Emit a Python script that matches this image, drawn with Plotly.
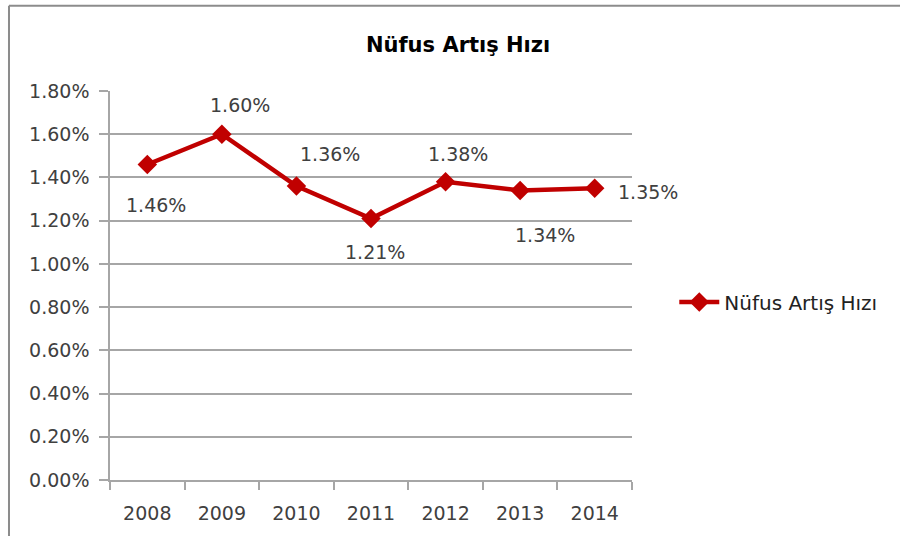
import plotly.graph_objects as go

years = ["2008", "2009", "2010", "2011", "2012", "2013", "2014"]
rates = [0.0146, 0.0160, 0.0136, 0.0121, 0.0138, 0.0134, 0.0135]
label_texts = ["1.46%", "1.60%", "1.36%", "1.21%", "1.38%", "1.34%", "1.35%"]
series_name = "Nüfus Artış Hızı"
title_text = "Nüfus Artış Hızı"
y_ticks = [0.0, 0.002, 0.004, 0.006, 0.008, 0.010, 0.012, 0.014, 0.016, 0.018]

# label offsets in pixels (style/position only)
label_dx = [9, 18, 34, 4, 12, 25, 53]
label_dy = [-41, 29, 32, -33, 28, -45, -4]

FONT = "DejaVu Sans"
RED = "#c00000"
TXT = "#404040"
GRID = "#a6a6a6"

fig = go.Figure()
fig.add_trace(go.Scatter(
    x=years, y=rates, mode="lines+markers", name=series_name,
    line=dict(color=RED, width=4.5),
    marker=dict(symbol="diamond", size=15, color=RED),
    hoverinfo="skip",
))

for i, (y, t, dx, dy) in enumerate(zip(rates, label_texts, label_dx, label_dy)):
    fig.add_annotation(x=i, y=y, xref="x", yref="y", text=t, showarrow=False,
                       xshift=dx, yshift=dy,
                       font=dict(family=FONT, size=19, color=TXT),
                       xanchor="center", yanchor="middle")

fig.add_shape(type="line", xref="paper", yref="paper", x0=-0.1935, x1=1.7,
              y0=1.219, y1=1.219, line=dict(color="#8c8c8c", width=2))
fig.add_shape(type="line", xref="paper", yref="paper", x0=-0.1935, x1=-0.1935,
              y0=1.219, y1=-0.3, line=dict(color="#8c8c8c", width=2))

fig.update_layout(
    width=900, height=536,
    margin=dict(l=110, r=268, t=91, b=56),
    paper_bgcolor="white", plot_bgcolor="white",
    title=dict(text=title_text, x=0.509, xanchor="center", y=0.916, yanchor="middle",
               font=dict(family=FONT, size=21, color="#000000", weight="bold")),
    showlegend=True,
    legend=dict(x=1.081, y=0.4576, xanchor="left", yanchor="middle",
                font=dict(family=FONT, size=20, color="#222222"),
                bgcolor="rgba(0,0,0,0)", itemwidth=40),
    xaxis=dict(type="category", range=[-0.5, 6.5], tickson="boundaries",
               ticks="outside", ticklen=8, tickcolor=GRID, tickwidth=1.5,
               showline=True, linecolor=GRID, linewidth=1.5, showgrid=False,
               tickfont=dict(family=FONT, size=19, color=TXT),
               ticklabelstandoff=15, fixedrange=True),
    yaxis=dict(range=[0, 0.018], tickvals=y_ticks, tickformat=".2%",
               ticks="outside", ticklen=9, tickcolor=GRID, tickwidth=1.5,
               showline=True, linecolor=GRID, linewidth=1.5,
               showgrid=True, gridcolor=GRID, gridwidth=1.5, zeroline=False,
               tickfont=dict(family=FONT, size=19, color=TXT),
               ticklabelstandoff=6, fixedrange=True),
)

fig.write_html("out.html",
               config={"displayModeBar": False},
               post_script="document.body.style.margin='0';document.body.style.overflow='hidden';")
